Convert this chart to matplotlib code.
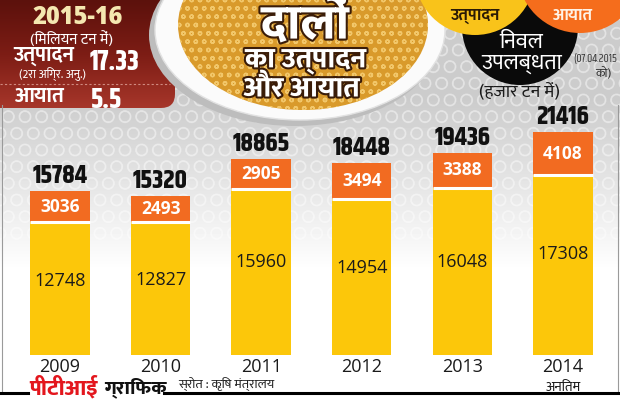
import numpy as np
import matplotlib
matplotlib.use("Agg")
import matplotlib.pyplot as plt
from matplotlib.patches import Ellipse, Circle, FancyBboxPatch
import matplotlib.patheffects as pe

# data (thousand tonnes)
years = ["2009", "2010", "2011", "2012", "2013", "2014"]
production = [12748, 12827, 15960, 14954, 16048, 17308]
imports = [3036, 2493, 2905, 3494, 3388, 4108]
net_avail = [15784, 15320, 18865, 18448, 19436, 21416]

HI = ["Mukta", "Noto Sans Devanagari", "DejaVu Sans"]
NUM = ["Open Sans", "DejaVu Sans"]
COND = ["Khand", "Open Sans", "DejaVu Sans"]

YELLOW = "#fcc70a"
ORANGE = "#f26b21"


def vis(s):
    # no complex shaping in matplotlib: put the i-matra in front of its consonant cluster
    res = []
    for ch in s:
        if ch == "\u093f" and res:
            j = len(res) - 1
            while j > 1 and res[j - 1] == "\u094d":
                j -= 2
            res.insert(j, ch)
        else:
            res.append(ch)
    return "".join(res)


fig = plt.figure(figsize=(6.2, 4), dpi=100)

# background layer in pixel coordinates
bg = fig.add_axes([0, 0, 1, 1])
bg.set_xlim(0, 620)
bg.set_ylim(400, 0)
bg.axis("off")

yy = np.arange(400)
shade = np.clip(0.80 + 0.20 * (yy - 100) / 170, 0.80, 1.0)
grad = np.repeat(shade[:, None], 2, axis=1)
bg.imshow(grad, extent=(0, 620, 400, 0), cmap="gray", vmin=0, vmax=1,
          aspect="auto", zorder=0)
# pill texture hint
bg.add_patch(FancyBboxPatch((0, 0), 620, 240, boxstyle="square,pad=0", facecolor="none",
                            edgecolor="#ffffff", hatch="O", lw=0, alpha=0.35, zorder=1))

# left red panel
panel = FancyBboxPatch((-20, -20), 195, 128, boxstyle="round,pad=0,rounding_size=14",
                       facecolor="none", edgecolor="none", zorder=2)
bg.add_patch(panel)
red = np.linspace(0, 1, 100)[:, None]
im = bg.imshow(red, extent=(0, 180, 110, 0), cmap=matplotlib.colors.LinearSegmentedColormap.from_list(
    "r", ["#5c110c", "#7d1d15", "#a8372b"]), aspect="auto", zorder=2)
im.set_clip_path(panel)
bg.plot([0, 170], [84, 84], color="#d08a80", lw=0.8, ls=(0, (2, 2)), zorder=3)

# plate with dal
bg.add_patch(Ellipse((295, 35), 292, 182, facecolor="#bdbdbd", edgecolor="none", zorder=2))
bg.add_patch(Ellipse((300, 30), 290, 180, facecolor="#fbfbfb", edgecolor="#e2e2e2", lw=1, zorder=2))
bg.add_patch(Ellipse((303, 25), 250, 170, facecolor="#d99a2b", edgecolor="none", lw=0, zorder=2))
bg.add_patch(Ellipse((303, 25), 250, 170, facecolor="none", edgecolor="#f2c76a", hatch="oo",
                     lw=0, zorder=2))

# circles at top right
bg.add_patch(Circle((520, 27), 58, facecolor="#0a0a0a", edgecolor="none", zorder=3))
bg.add_patch(Circle((475, -25), 60, facecolor="#f9c31a", edgecolor="none", zorder=4))
bg.add_patch(Circle((580, -30), 63, facecolor="#f56d1c", edgecolor="none", zorder=4))

bg.text(475, 16, vis("उत्पादन"), family=HI, fontsize=12, weight="bold", color="#2a1a05",
        ha="center", va="center", zorder=5)
bg.text(573, 16, vis("आयात"), family=HI, fontsize=12, weight="bold", color="#fff3e6",
        ha="center", va="center", zorder=5)
bg.text(521, 42, vis("निवल"), family=HI, fontsize=16, color="white",
        ha="center", va="center", zorder=5)
bg.text(522, 63, vis("उपलब्धता"), family=HI, fontsize=16, color="white",
        ha="center", va="center", zorder=5)
bg.text(617, 58, "(07.04.2015", family=COND, fontsize=8.5, color="#333333",
        ha="right", va="center", zorder=5)
bg.text(603, 73, vis("को)"), family=HI, fontsize=9, color="#333333",
        ha="center", va="center", zorder=5)
bg.text(519, 91, vis("(हजार टन में)"), family=HI, fontsize=13, color="#1a1a1a",
        ha="center", va="center", zorder=5)

# headline
stroke = [pe.withStroke(linewidth=3, foreground="#3a1c08")]
bg.text(305, 25, vis("दालों"), family=HI, fontsize=35, weight=800, color="white",
        ha="center", va="center", zorder=6, path_effects=stroke)
bg.text(306, 61, vis("का उत्पादन"), family=HI, fontsize=20.5, weight=800, color="white",
        ha="center", va="center", zorder=6, path_effects=stroke)
bg.text(302, 90, vis("और आयात"), family=HI, fontsize=20.5, weight=800, color="white",
        ha="center", va="center", zorder=6, path_effects=stroke)

# left panel text
bg.text(78, 18, "2015-16", family=NUM, fontsize=17, weight="heavy", color="#f4e7b0",
        ha="center", va="center", zorder=5)
bg.text(72, 40, vis("(मिलियन टन में)"), family=HI, fontsize=11, color="white",
        ha="center", va="center", zorder=5)
bg.text(44, 56, vis("उत्पादन"), family=HI, fontsize=15, weight="bold", color="white",
        ha="center", va="center", zorder=5)
bg.text(114, 62, "17.33", family=COND, fontsize=20, weight="bold", color="white",
        ha="center", va="center", zorder=5)
bg.text(52, 74, vis("(2रा अग्रि. अनु.)"), family=HI, fontsize=8.5, color="white",
        ha="center", va="center", zorder=5)
bg.text(40, 97, vis("आयात"), family=HI, fontsize=15, weight="bold", color="white",
        ha="center", va="center", zorder=5)
bg.text(106, 99, "5.5", family=COND, fontsize=20, weight="bold", color="white",
        ha="center", va="center", zorder=5)

# side borders
bg.plot([2, 2], [105, 392], color="#9a9a9a", lw=0.8, zorder=3)
bg.plot([618, 618], [105, 392], color="#9a9a9a", lw=0.8, zorder=3)

# footer
bg.plot([0, 28], [393, 393], color="black", lw=2.2, zorder=5)
bg.plot([164, 620], [393, 393], color="black", lw=2.2, zorder=5)
bg.text(29, 388, vis("पीटीआई"), family=HI, fontsize=16, weight=800, color="#e3161d",
        ha="left", va="center", zorder=5)
bg.text(104, 388, vis("ग्राफिक"), family=HI, fontsize=14, weight=800, color="#111111",
        ha="left", va="center", zorder=5)
bg.text(178, 384, vis("स्रोत : कृषि मंत्रालय"), family=HI, fontsize=9.5, style="italic",
        color="#222222", ha="left", va="center", zorder=5)

# chart layer: 0 sits at pixel 355, about 0.0104 px per thousand tonnes
ax = fig.add_axes([0, 0, 1, 1])
ax.patch.set_visible(False)
ax.set_xlim(-0.596, 5.567)
ax.set_ylim(-4327, 34135)
ax.axis("off")

x = np.arange(len(years))
width = 0.59
ax.bar(x, production, width=width, color=YELLOW, zorder=2)
ax.bar(x, imports, width=width, bottom=production, color=ORANGE, zorder=2)
ax.hlines(production, x - width / 2, x + width / 2, color="white", lw=2.2, zorder=3)

for i in range(len(years)):
    top = production[i] + imports[i]
    ax.text(x[i], production[i] * 0.56, str(production[i]), family=NUM, fontsize=13,
            color="#1a1a1a", ha="center", va="center", zorder=4)
    ax.text(x[i], production[i] + imports[i] / 2, str(imports[i]), family=NUM, fontsize=12.5,
            weight="bold", color="white", ha="center", va="center", zorder=4)
    ax.annotate(str(net_avail[i]), (x[i], top), xytext=(0, 3), textcoords="offset points",
                family=COND, fontsize=19, weight="bold", color="#111111",
                ha="center", va="bottom", zorder=4)
    ax.annotate(years[i], (x[i], 0), xytext=(0, -2), textcoords="offset points",
                family=NUM, fontsize=13, color="#1a1a1a", ha="center", va="top", zorder=4)

ax.annotate(vis("अनतिम"), (x[-1], 0), xytext=(0, -19), textcoords="offset points",
            family=HI, fontsize=10, color="#1a1a1a", ha="center", va="top", zorder=4)

fig.savefig("out.png", dpi=100)
